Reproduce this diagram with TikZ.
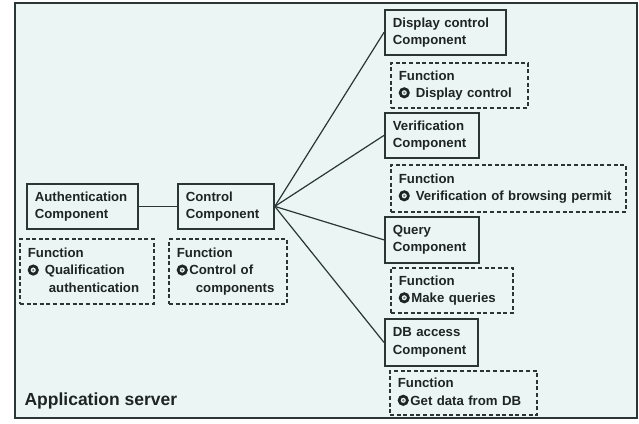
\documentclass[tikz,border=0pt]{standalone}
\usepackage{fontspec}
\setmainfont{Liberation Sans}
\definecolor{ink}{HTML}{1E2424}
\definecolor{rulec}{HTML}{2A3636}
\definecolor{paper}{RGB}{234,245,244}
% room left in a line for the bull's-eye mark
\newcommand{\markgap}{\hspace*{12.5pt}}
\begin{document}
\begin{tikzpicture}[x=1pt,y=-1pt,
  every node/.style={font=\fontsize{13.2}{17.5}\selectfont\bfseries, text=ink},
  comp/.style={draw=rulec, line width=1.8pt, anchor=north west,
    inner xsep=8pt, inner ysep=2pt, align=left},
  func/.style={comp, dash pattern=on 4pt off 2.6pt},
  bull/.style={circle, draw=ink, fill=paper, line width=2.7pt,
    minimum size=8.3pt, inner sep=0pt,
    path picture={\fill[ink!60] (path picture bounding box.center) circle (1.3pt);}},
  link/.style={draw=rulec, line width=1.2pt}]
  \useasboundingbox (0,0) rectangle (639,423);
  % server frame
  \fill[paper] (15,3) rectangle (637,418);
  \draw[rulec, line width=1.4pt] (15,3) rectangle (637,418);
  \node[anchor=base west, font=\fontsize{17.5}{20}\selectfont\bfseries] (title) at (21,405) {Application server};

  % left column
  \node[comp, text width=95pt, minimum height=45pt] (auth) at (26,183) {Authentication\\Component};
  \node[func, text width=118pt, minimum height=65pt] (authf) at (19,238)
    {Function\\\markgap\ Qualification\\\hspace*{21pt}authentication\vphantom{p}};
  \node[comp, text width=80pt, minimum height=45pt] (ctrl) at (177,183) {Control\\Component};
  \node[func, text width=102pt, minimum height=65pt] (ctrlf) at (168,238)
    {Function\\\markgap Control of\\\hspace*{19pt}components\vphantom{p}};

  % right column
  \node[comp, text width=105pt, minimum height=45pt] (disp) at (384,9) {Display control\\Component};
  \node[func, text width=121pt, minimum height=45pt] (dispf) at (390,62)
    {Function\\\markgap\ Display control\vphantom{p}};
  \node[comp, text width=78pt, minimum height=45pt] (ver) at (384,112) {Verification\\Component};
  \node[func, text width=219pt, minimum height=47pt] (verf) at (390,164)
    {Function\\\markgap\ Verification of browsing permit\vphantom{p}};
  \node[comp, text width=78pt, minimum height=46pt] (qry) at (384,216) {Query\\Component};
  \node[func, text width=106pt, minimum height=45pt] (qryf) at (390,267)
    {Function\\\markgap Make queries\vphantom{p}};
  \node[comp, text width=77pt, minimum height=47pt] (db) at (384,318) {DB access\\Component};
  \node[func, text width=131pt, minimum height=44pt] (dbf) at (389,370)
    {Function\\\markgap Get data from DB\vphantom{p}};

  % bull's-eye marks on the second line of each function box
  \node[bull] (m1) at ([xshift=14.25pt, yshift=1.35pt]authf.west) {};
  \node[bull] (m2) at ([xshift=14.25pt, yshift=1.35pt]ctrlf.west) {};
  \foreach \f/\m in {dispf/m3, verf/m4, qryf/m5, dbf/m6}
    \node[bull] (\m) at ([xshift=14.25pt, yshift=-7.4pt]\f.west) {};

  % connectors
  \draw[link] (auth.east) -- (ctrl.west);
  \foreach \t in {disp,ver,qry,db}
    \draw[link] (ctrl.east) -- (\t.west);
\end{tikzpicture}
\end{document}
